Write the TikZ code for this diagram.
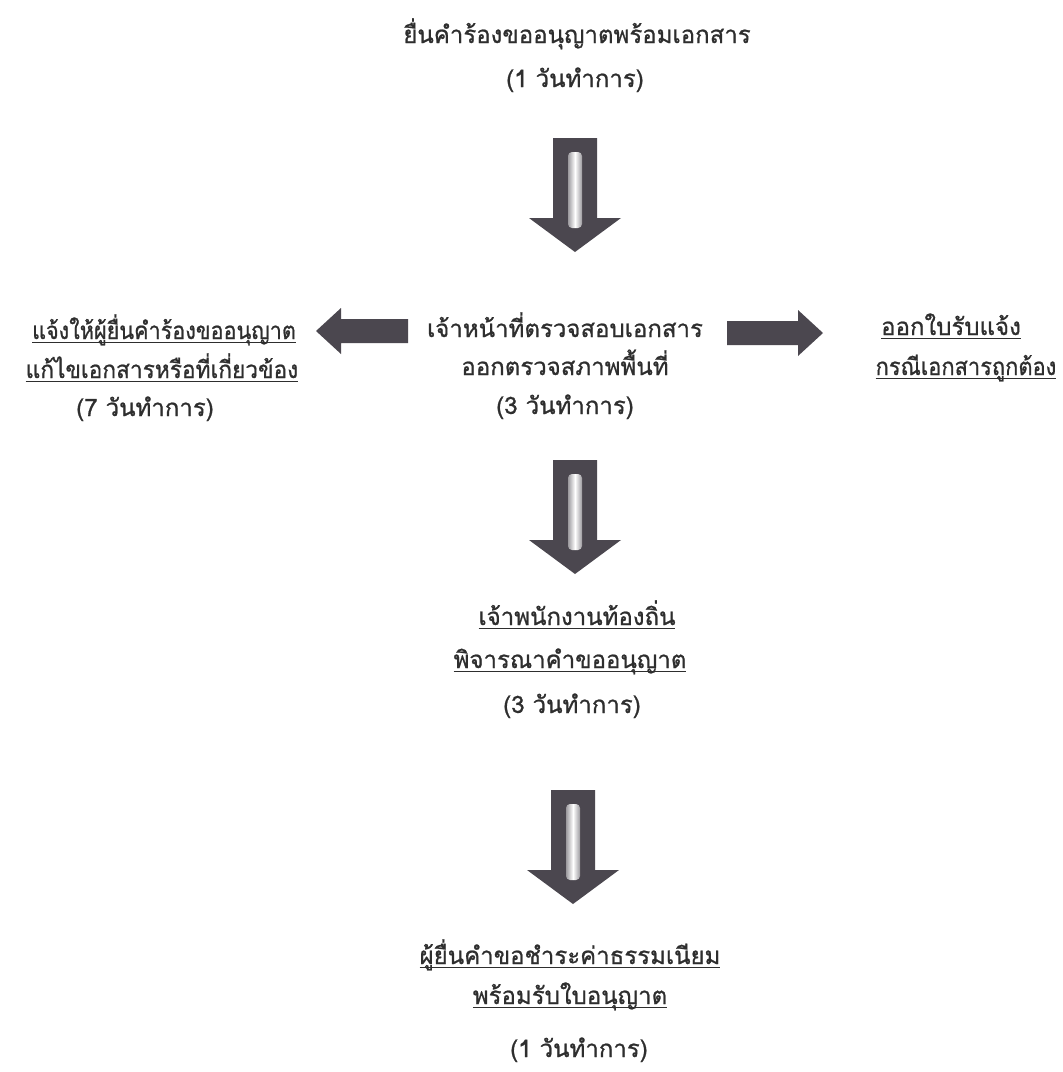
\documentclass[tikz,border=0pt]{standalone}
\usepackage{fontspec}
\usepackage{graphicx}
\newfontfamily\thaifont[Script=Thai, FakeBold=0.9]{Loma}
\definecolor{arrowgray}{HTML}{4B474F}
\definecolor{txt}{HTML}{2E2E2E}
\newcommand\uln[1]{\setbox0\hbox{#1}\leavevmode\rlap{\rule[-4pt]{\wd0}{1.5pt}}\box0}
\newcommand\hsq[2]{\scalebox{#1}[1]{#2}}
\tikzset{
  lbl/.style={font=\thaifont\fontsize{24}{28}\selectfont, text=txt, inner sep=0pt, anchor=base},
  downblock/.pic={
    \fill[arrowgray] (-22,0) -- (22,0) -- (22,80) -- (46,80) -- (0,114) -- (-46,80) -- (-22,80) -- cycle;
    \shade[left color=arrowgray!55, right color=arrowgray!55, middle color=white, rounded corners=4pt] (-7,14) rectangle (7,90);
  },
  leftblock/.pic={
    \fill[arrowgray] (0,0) -- (25,-23) -- (25,-12) -- (92,-12) -- (92,12) -- (25,12) -- (25,23) -- cycle;
  },
  rightblock/.pic={
    \fill[arrowgray] (0,0) -- (-25,-23) -- (-25,-12) -- (-96,-12) -- (-96,12) -- (-25,12) -- (-25,23) -- cycle;
  }
}
\begin{document}
\begin{tikzpicture}[x=1pt,y=-1pt]
\useasboundingbox (0,0) rectangle (1063,1072);
\fill[white] (0,0) rectangle (1063,1072);

% top
\node[lbl] (t1) at (577,43) {ยื่นคำร้องขออนุญาตพร้อมเอกสาร};
\node[lbl] (t2) at (575,87) {(1 วันทำการ)};
\coordinate (a1) at (575,138);
\pic at (a1) {downblock};

% middle row
\node[lbl] (m1) at (565,337) {เจ้าหน้าที่ตรวจสอบเอกสาร};
\node[lbl] (m2) at (565,375) {ออกตรวจสภาพพื้นที่};
\node[lbl] (m3) at (565,414) {(3 วันทำการ)};

\node[lbl] (l1) at (164,339) {\uln{\hsq{0.9}{แจ้งให้ผู้ยื่นคำร้องขออนุญาต}}};
\node[lbl] (l2) at (162,378) {\uln{\hsq{0.945}{แก้ไขเอกสารหรือที่เกี่ยวข้อง}}};
\node[lbl] (l3) at (145,416) {(7 วันทำการ)};

\node[lbl] (r1) at (951,335) {\uln{ออกใบรับแจ้ง}};
\node[lbl] (r2) at (966,375) {\uln{\hsq{0.91}{กรณีเอกสารถูกต้อง}}};

\coordinate (al) at (316,331);
\pic at (al) {leftblock};
\coordinate (ar) at (823,333);
\pic at (ar) {rightblock};

\coordinate (a2) at (575,460);
\pic at (a2) {downblock};

% third
\node[lbl] (c1) at (577,625) {\uln{เจ้าพนักงานท้องถิ่น}};
\node[lbl] (c2) at (570,668) {\uln{พิจารณาคำขออนุญาต}};
\node[lbl] (c3) at (572,713) {(3 วันทำการ)};

\coordinate (a3) at (573,790);
\pic at (a3) {downblock};

% bottom
\node[lbl] (b1) at (570,964) {\uln{ผู้ยื่นคำขอชำระค่าธรรมเนียม}};
\node[lbl] (b2) at (570,1004) {\uln{พร้อมรับใบอนุญาต}};
\node[lbl] (b3) at (579,1057) {(1 วันทำการ)};
\end{tikzpicture}
\end{document}
